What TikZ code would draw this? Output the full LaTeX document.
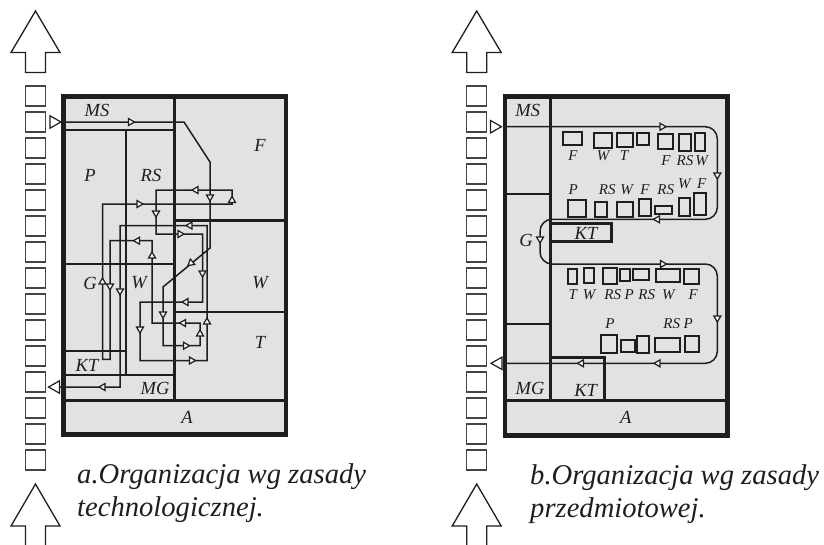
\documentclass[tikz,border=0pt]{standalone}
\usepackage{fontspec}
\setmainfont{Liberation Serif}
\usepackage{xcolor}
\usetikzlibrary{shapes.geometric}
\definecolor{panel}{HTML}{E2E2E2}
\definecolor{ink}{HTML}{1E1E1E}
\definecolor{stock}{HTML}{444444}

\begin{document}
\begin{tikzpicture}[
  x=1pt,y=-1pt,
  panelfrm/.style={draw=ink,fill=panel,line width=4.8pt},
  partline/.style={draw=ink,line width=2.5pt},
  cellbox/.style={draw=ink,line width=2pt},
  wire/.style={draw=ink,line width=1.5pt},
  stockbox/.style={draw=stock,line width=1.4pt},
  bigarrow/.style={draw=ink,line width=1.3pt,fill=white},
  minitri/.style={isosceles triangle,isosceles triangle stretches,draw=ink,line width=1.2pt,fill=panel!40!white,inner sep=0pt,minimum width=7pt,minimum height=6pt},
  bigtri/.style={isosceles triangle,isosceles triangle stretches,draw=ink,line width=1.2pt,fill=white,inner sep=0pt,minimum width=12.5pt,minimum height=11pt},
  lbl/.style={font=\fontsize{18.5}{18.5}\selectfont\itshape,text=ink,inner sep=0pt},
  minilbl/.style={font=\fontsize{15}{15}\selectfont\itshape,text=ink,inner sep=0pt},
  caption/.style={font=\fontsize{28.6}{33}\selectfont\itshape,text=ink,align=left,inner sep=0pt,anchor=north west}
]
\useasboundingbox (0,0) rectangle (824,544);
% stock columns and big arrows
\foreach \c/\n in {35.5/L,476.7/R}{
  \foreach \k in {0,...,14}{
    \draw[stockbox] (\c-10,86+26*\k) rectangle (\c+10,106+26*\k);
  }
  \draw[bigarrow] (\c,11) -- (\c+24.5,52.5) -- (\c+10,52.5) -- (\c+10,72.5) -- (\c-10,72.5) -- (\c-10,52.5) -- (\c-24.5,52.5) -- cycle;
  \draw[bigarrow] (\c-10,546) -- (\c-10,526) -- (\c-24.5,526) -- (\c,484) -- (\c+24.5,526) -- (\c+10,526) -- (\c+10,546);
}
% left panel
\draw[panelfrm] (63.5,96.5) rectangle (286,434.5);
\draw[partline] (174.5,96) -- (174.5,400);
\draw[partline] (65,130) -- (174.5,130);
\draw[partline] (126,130) -- (126,375);
\draw[partline] (65,264) -- (174.5,264);
\draw[partline] (65,351) -- (126,351);
\draw[partline] (65,375) -- (174.5,375);
\draw[partline] (65,400.5) -- (285,400.5);
\draw[partline] (174.5,220.5) -- (285,220.5);
\draw[partline] (174.5,312) -- (285,312);
% right panel
\draw[panelfrm] (505,96.5) rectangle (727.5,435.5);
\draw[partline] (550.7,96) -- (550.7,400.7);
\draw[partline] (507,194) -- (550.7,194);
\draw[partline] (507,324) -- (550.7,324);
\draw[partline] (507,400.7) -- (726,400.7);
\draw[partline,line width=2.8pt] (550.7,223.3) -- (611.5,223.3) -- (611.5,241.3) -- (550.7,241.3);
\draw[partline] (550.7,357.3) -- (604.3,357.3) -- (604.3,400.7);
% small items
\foreach \xa/\ya/\xb/\yb in {563.3/131.7/581.7/145.3,594.3/133.3/611.7/148,616.7/132.7/632.7/146.7,637.3/133.3/649.3/145.3,658.3/134/673.3/148.7,679.3/134/690.7/150.7,695/133.3/705.3/150.7,
  568.3/200/585.7/216.7,595.3/201.7/607.3/216.7,617/201.7/632.7/216.7,639/198.7/650.7/216,655.3/205.7/671.7/214.3,679.3/198.3/690/216,694/193.3/706/215,
  567.7/268.7/577.3/284,583.7/268.3/594/283.3,603.3/268/616.7/284.3,620.3/268.7/630/281.3,633.3/269.3/649/280,656/268.7/680/281.7,684.3/269.3/698.7/283.7,
  601.3/335/617/353,620.7/340.3/634.7/352.3,637/335.7/649/353,654.7/338.3/680/351.7,685.3/336.3/698.7/352.3}{
  \draw[cellbox] (\xa,\ya) rectangle (\xb,\yb);
}
% in and out markers
\node[bigtri,anchor=apex] (inL) at (62.5,122) {};
\node[bigtri,anchor=apex,rotate=180] (outL) at (47,387) {};
\node[bigtri,anchor=apex] (inR) at (503,126.7) {};
\node[bigtri,anchor=apex,rotate=180] (outR) at (489.5,363.3) {};
% route a
\draw[wire] (inL.apex) -- (184,122) -- (210,162) -- (210,248) -- (163,287) -- (163,345.7) -- (200,345.7) -- (200,323) -- (152,323) -- (152,240.7) -- (110,240.7) -- (110,359.3) -- (102.5,359.3) -- (102.5,204) -- (232,204) -- (232,190) -- (156,190) -- (156,234) -- (202.5,234) -- (202.5,302) -- (140,302) -- (140,360.5) -- (207,360.5) -- (207,225.5) -- (120,225.5) -- (120,387) -- (outL.lower side);
% route b
\draw[wire,rounded corners=12pt] (inR.apex) -- (717.3,126.7) -- (717.3,219.3) -- (540,219.3) -- (540,264) -- (717.3,264) -- (717.3,363.3) -- (outR.lower side);
% direction marks
\foreach \x/\y/\r [count=\i] in {130.5/122/0,210/197/270,232/200.5/90,196/190/180,139/204/0,156/213/270,190/225.5/180,180/234/0,137.5/240.7/180,152/256/90,191/263/219.7,202.5/273/270,186/302/180,140/329/270,163/314/270,207/322/90,183.5/323/180,200/334/90,185.5/345.7/0,191.5/360.5/0,102.5/282/90,110/286/270,120/291/270,103/387/180,
  662/126.7/0,717.3/175/270,657.5/219.3/180,540/239/270,662.5/264/0,717.3/318/270,658/363.3/180,581.5/363.3/180}{
  \node[minitri,rotate=\r] (m\i) at (\x,\y) {};
}
% big labels
\foreach \x/\y/\t [count=\i] in {97/110/MS,260/145/F,90/175/P,151/175/RS,90/283/G,139/283/W,260/283/W,260/342/T,87/365/KT,155/388/MG,187/417/A,
  527.7/110.7/MS,526/240/G,586/233/KT,530/388/MG,585.7/390/KT,625.7/417/A}{
  \node[lbl] (t\i) at (\x,\y) {\t};
}
% small labels
\foreach \x/\y/\t [count=\i] in {573/156/F,603/156/W,624/156/T,666/160.7/F,685/160.7/RS,701.7/160.7/W,
  573.3/189.3/P,607.3/190/RS,626.7/190/W,645/190/F,665.7/190/RS,684.3/184/W,701.7/184/F,
  572.7/295/T,589/295/W,612.7/295/RS,629.3/295/P,646.7/295/RS,668.3/295/W,693.3/295/F,
  610/324/P,671.7/324/RS,688.3/324/P}{
  \node[minilbl] (s\i) at (\x,\y) {\t};
}
% captions
\node[caption] (capL) at (77,463.5) {a.Organizacja wg zasady\\technologicznej.};
\node[caption] (capR) at (530,464) {b.Organizacja wg zasady\\przedmiotowej.};
\end{tikzpicture}
\end{document}
